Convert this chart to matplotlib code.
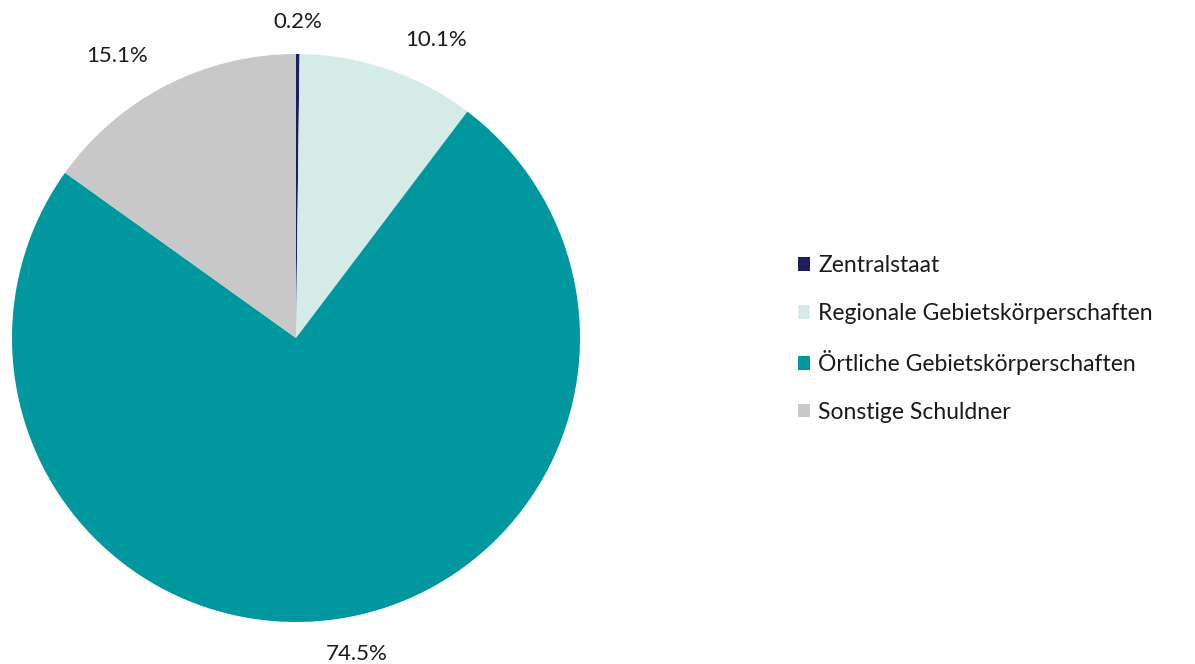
import matplotlib
matplotlib.use("Agg")
import matplotlib.pyplot as plt
from matplotlib.patches import Patch

categories = ["Zentralstaat", "Regionale Gebietskörperschaften",
              "Örtliche Gebietskörperschaften", "Sonstige Schuldner"]
values = [0.2, 10.1, 74.5, 15.1]
labels = ["0.2%", "10.1%", "74.5%", "15.1%"]
colors = ["#1b1f5e", "#d4ebe7", "#00989e", "#c8c8c8"]
# label anchor offsets (in pie-radius units)
label_xy = [(0.007, 1.113), (0.493, 1.049), (0.215, -1.113), (-0.630, 0.993)]

plt.rcParams['font.family'] = ['Lato', 'DejaVu Sans']

W, H = 1195, 664
fig = plt.figure(figsize=(W / 100, H / 100), dpi=100)
cx, cy, r = 296, 664 - 338, 284
ax = fig.add_axes([(cx - r) / W, (cy - r) / H, 2 * r / W, 2 * r / H])
wedges, _ = ax.pie(values, colors=colors, startangle=90, counterclock=False,
                   radius=1, wedgeprops=dict(linewidth=0))
ax.set_xlim(-1, 1)
ax.set_ylim(-1, 1)
ax.set_aspect('equal')
ax.axis('off')

for (x, y), lab in zip(label_xy, labels):
    ax.text(x, y, lab, ha='center', va='center', fontsize=16, color='#1a1a1a',
            clip_on=False)

handles = [Patch(facecolor=c, edgecolor='none') for c in colors]
fig.legend(handles, categories, loc='center left',
           bbox_to_anchor=(777 / W, 1 - 339 / H), frameon=False,
           fontsize=16.5, handlelength=0.55, handleheight=0.55,
           handletextpad=0.35, labelspacing=1.15, labelcolor='#1a1a1a')

fig.savefig("out.png", dpi=100)
